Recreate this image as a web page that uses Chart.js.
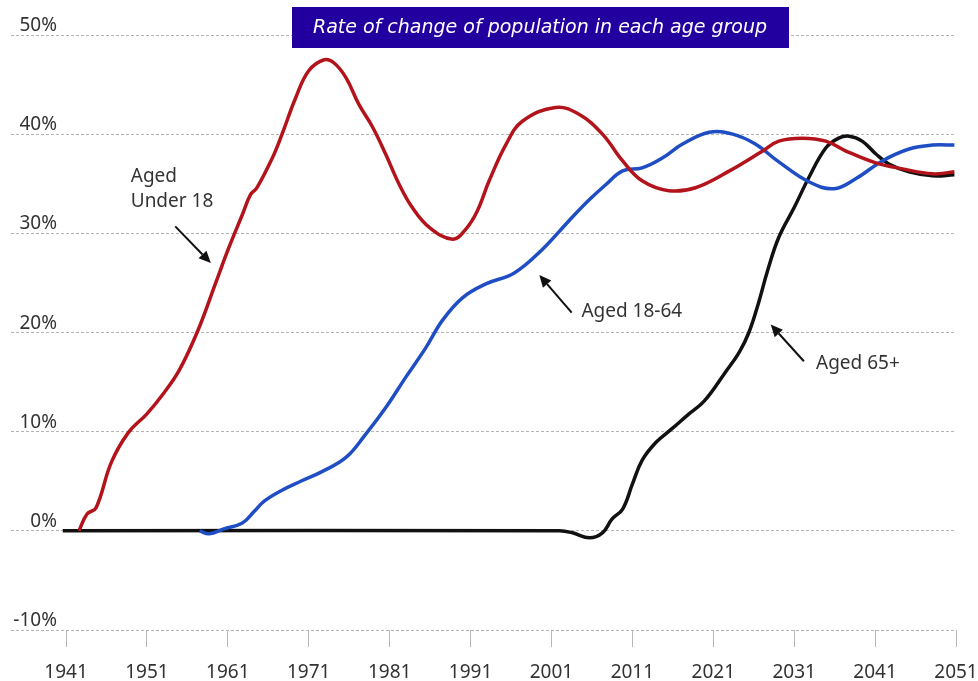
<!DOCTYPE html>
<html lang="en">
<head>
<meta charset="UTF-8">
<title>Rate of change of population in each age group</title>
<script src="https://cdn.jsdelivr.net/npm/chart.js"></script>
<style>
    html, body { margin: 0; padding: 0; background: #fff; }
    #popChart { display: block; }
</style>
</head>
<body>
<canvas id="popChart" width="978" height="681"></canvas>
<script>
// values (year, % change)
var under18Years = [1942.6, 1943.6, 1944.7, 1946.6, 1948.7, 1951, 1953, 1955, 1957.3, 1959.5, 1961.1, 1962.8, 1963.8, 1964.6,
    1966.5, 1967.7, 1969.4, 1971, 1972.9, 1974.1, 1975.6, 1977.2, 1978.9, 1980.5, 1982.2, 1983.8, 1985.9, 1988.8, 1990.4,
    1991.8, 1993.3, 1995.4, 1997.4, 2001.5, 2004.4, 2007.3, 2009.8, 2012.2, 2015.5, 2018.8, 2023, 2027.1, 2029.1, 2032,
    2034.9, 2037.4, 2041.1, 2044.4, 2048.1, 2050.8];
var under18Values = [0, 1.7, 2.3, 6.9, 9.9, 11.8, 13.8, 16.2, 20.2, 25, 28.5, 31.9, 33.9, 34.6,
    37.6, 40.0, 43.7, 46.4, 47.5, 47.2, 45.7, 43.0, 40.7, 38.0, 34.9, 32.6, 30.6, 29.4, 30.4,
    32.2, 35.3, 39.0, 41.3, 42.7, 42.0, 40.0, 37.3, 35.3, 34.3, 34.6, 36.3, 38.3, 39.3, 39.6,
    39.3, 38.3, 37.1, 36.5, 36.0, 36.2];

var workingYears = [1957.5, 1958.7, 1960.5, 1962.8, 1964.3, 1965.5, 1967.7, 1970, 1972.7, 1975.6, 1978, 1980.5, 1983,
    1985.5, 1987.5, 1990, 1992.9, 1996.4, 1999.9, 2003.2, 2005.7, 2007.7, 2009.8, 2012.2, 2014.7, 2017.2, 2020.5,
    2023.4, 2026.2, 2029.1, 2032.8, 2035.9, 2038.6, 2041.9, 2045.2, 2048.1, 2050.8];
var workingValues = [0, -0.3, 0.2, 0.8, 2.0, 3.0, 4.1, 5.0, 6.0, 7.4, 9.7, 12.4, 15.5,
    18.5, 21.2, 23.5, 24.9, 26.0, 28.4, 31.3, 33.4, 34.9, 36.3, 36.6, 37.6, 39.0, 40.2,
    40.0, 39.0, 37.2, 35.2, 34.5, 35.5, 37.3, 38.5, 38.9, 38.9];

var olderYears = [1940.6, 2002, 2003.6, 2005.7, 2007.3, 2008.5, 2009.8, 2011, 2012.2, 2013.9, 2015.9, 2018, 2019.9,
    2022.5, 2024.2, 2025.4, 2026.6, 2027.7, 2029.1, 2031, 2032.8, 2034.9, 2036.5, 2037.8, 2039.4, 2041.1, 2042.7,
    2045.2, 2048.1, 2050.8];
var olderValues = [0, 0, -0.2, -0.7, -0.2, 1.2, 2.2, 4.7, 7.1, 8.9, 10.3, 11.8, 13.1,
    16.0, 18.0, 20.0, 23.0, 26.2, 29.6, 32.6, 35.6, 38.6, 39.6, 39.8, 39.3, 38.0, 37.0,
    36.2, 35.8, 35.9];

var xTicks = [1941, 1951, 1961, 1971, 1981, 1991, 2001, 2011, 2021, 2031, 2041, 2051];
var yTicks = [-10, 0, 10, 20, 30, 40, 50];

var chartTitle = 'Rate of change of population in each age group';

// callouts, placed in data units (year, %)
var callouts = [
    { lines: ['Aged', 'Under 18'], at: [1949.0, 35.7], lineGap: 2.5, from: [1954.5, 30.7], to: [1958.9, 27.0] },
    { lines: ['Aged 18-64'], at: [2004.7, 22.1], lineGap: 0, from: [2003.5, 22.0], to: [1999.5, 25.8] },
    { lines: ['Aged 65+'], at: [2033.7, 16.9], lineGap: 0, from: [2032.2, 17.1], to: [2028.1, 20.8] }
];

var FONT = '"Noto Sans", "Open Sans", sans-serif';

function toPoints(xs, ys) {
    return xs.map(function (x, i) { return { x: x, y: ys[i] }; });
}

function arrow(ctx, x1, y1, x2, y2) {
    var ang = Math.atan2(y2 - y1, x2 - x1);
    var head = 12, wing = 5.5;
    var bx = x2 - head * Math.cos(ang), by = y2 - head * Math.sin(ang);
    ctx.beginPath();
    ctx.moveTo(x1, y1);
    ctx.lineTo(bx, by);
    ctx.stroke();
    ctx.beginPath();
    ctx.moveTo(x2, y2);
    ctx.lineTo(bx + wing * Math.sin(ang), by - wing * Math.cos(ang));
    ctx.lineTo(bx - wing * Math.sin(ang), by + wing * Math.cos(ang));
    ctx.closePath();
    ctx.fill();
}

var decorations = {
    id: 'decorations',
    afterDraw: function (chart) {
        var ctx = chart.ctx;
        var xs = chart.scales.x, ys = chart.scales.y;
        ctx.save();

        // y labels sit above their gridline, right aligned
        ctx.font = '19px ' + FONT;
        ctx.fillStyle = '#333';
        ctx.textAlign = 'right';
        ctx.textBaseline = 'alphabetic';
        yTicks.forEach(function (v) {
            ctx.fillText(v + '%', chart.chartArea.left + 46, ys.getPixelForValue(v) - 4);
        });

        // x labels under the tick marks
        ctx.textAlign = 'center';
        xTicks.forEach(function (v) {
            ctx.fillText(String(v), xs.getPixelForValue(v), xs.bottom + 31);
        });

        // callouts with arrows
        ctx.textAlign = 'left';
        ctx.textBaseline = 'middle';
        ctx.strokeStyle = '#111';
        ctx.lineWidth = 2;
        callouts.forEach(function (c) {
            ctx.fillStyle = '#333';
            c.lines.forEach(function (t, i) {
                ctx.fillText(t, xs.getPixelForValue(c.at[0]), ys.getPixelForValue(c.at[1] - i * c.lineGap));
            });
            ctx.fillStyle = '#111';
            arrow(ctx, xs.getPixelForValue(c.from[0]), ys.getPixelForValue(c.from[1]),
                xs.getPixelForValue(c.to[0]), ys.getPixelForValue(c.to[1]));
        });

        // title box
        ctx.fillStyle = '#2200a0';
        ctx.fillRect(292, 7, 497, 41);
        ctx.fillStyle = '#fff';
        ctx.font = 'italic 19px "DejaVu Sans", sans-serif';
        ctx.textAlign = 'center';
        ctx.textBaseline = 'middle';
        ctx.fillText(chartTitle, 540, 28);
        ctx.restore();
    }
};

var ctx = document.getElementById('popChart').getContext('2d');
var popChart = new Chart(ctx, {
    type: 'line',
    data: {
        datasets: [
            {
                label: 'Aged Under 18',
                data: toPoints(under18Years, under18Values),
                borderColor: '#b3141c',
                borderWidth: 3.5,
                pointRadius: 0,
                tension: 0.4
            },
            {
                label: 'Aged 18-64',
                data: toPoints(workingYears, workingValues),
                borderColor: '#1f4ec4',
                borderWidth: 3.5,
                pointRadius: 0,
                tension: 0.4
            },
            {
                label: 'Aged 65+',
                data: toPoints(olderYears, olderValues),
                borderColor: '#111',
                borderWidth: 3.5,
                pointRadius: 0,
                tension: 0.4
            }
        ]
    },
    options: {
        responsive: false,
        animation: false,
        devicePixelRatio: 1,
        layout: { padding: { top: 35, left: 11, right: 22, bottom: 34 } },
        plugins: {
            legend: { display: false },
            tooltip: { enabled: false }
        },
        scales: {
            x: {
                type: 'linear',
                min: 1934.2,
                max: 2051,
                afterBuildTicks: function (axis) {
                    axis.ticks = xTicks.map(function (v) { return { value: v }; });
                },
                grid: { drawOnChartArea: false, drawTicks: true, tickLength: 17, color: '#b8b8b8', lineWidth: 1 },
                border: { display: false },
                ticks: { display: false }
            },
            y: {
                min: -10,
                max: 50,
                afterBuildTicks: function (axis) {
                    axis.ticks = yTicks.map(function (v) { return { value: v }; });
                },
                ticks: { display: false },
                grid: { color: '#b4b4b4', lineWidth: 1, drawTicks: false },
                border: { display: false, dash: [3, 2] }
            }
        }
    },
    plugins: [decorations]
});
</script>
</body>
</html>
